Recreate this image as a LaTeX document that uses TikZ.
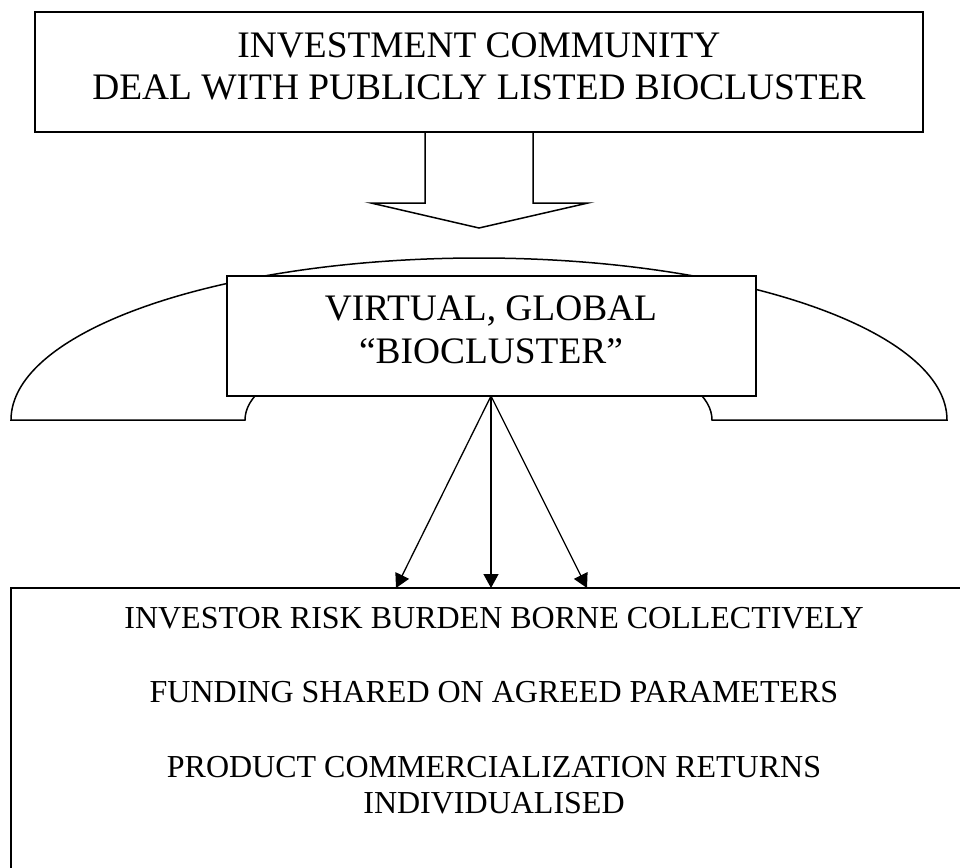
\documentclass[tikz,border=0pt]{standalone}
\usepackage{fontspec}
\setmainfont{Liberation Serif}
\usetikzlibrary{arrows.meta}
\begin{document}
\begin{tikzpicture}[x=1pt,y=1pt,
  boxed/.style={draw, line width=1.8pt, fill=white, inner sep=0pt},
  bigtext/.style={font=\fontsize{37.4}{42}\selectfont, anchor=base, inner sep=0pt},
  smalltext/.style={font=\fontsize{32}{36}\selectfont, anchor=base, inner sep=0pt},
  outline/.style={draw, line width=1.5pt, line join=miter},
  link/.style={line width=1.3pt, -{Triangle[length=14pt,width=15pt]}}]
\useasboundingbox (0,0) rectangle (960,-867);
\clip (0,0) rectangle (960,-867);

% top box
\node[boxed, minimum width=888pt, minimum height=120pt] (top) at (479,-72) {};
\node[bigtext] (topa) at (479,-57) {INVESTMENT COMMUNITY};
\node[bigtext] (topb) at (479,-99) {DEAL WITH PUBLICLY LISTED BIOCLUSTER};

% hollow block arrow hanging from the top box
\draw[outline] (425,-132) -- (425,-203) -- (371,-203) -- (479,-228)
  -- (588,-203) -- (533,-203) -- (533,-132);

% block arc behind the middle box
\draw[outline, fill=white] (11,-420)
  arc[start angle=180, end angle=0, x radius=468pt, y radius=162pt]
  -- (712,-420)
  arc[start angle=0, end angle=180, x radius=233.5pt, y radius=83pt]
  -- cycle;

% middle box
\node[boxed, minimum width=529pt, minimum height=120pt] (mid) at (491.5,-336) {};
\node[bigtext] (mida) at (491,-320) {VIRTUAL, GLOBAL};
\node[bigtext] (midb) at (491,-363) {“BIOCLUSTER”};

% bottom box (runs past the right and lower edges)
\node[boxed, minimum width=966pt, minimum height=320pt] (bot) at (494,-748) {};
\node[smalltext] (bota) at (494,-628) {INVESTOR RISK BURDEN BORNE COLLECTIVELY};
\node[smalltext] (botb) at (494,-702) {FUNDING SHARED ON AGREED PARAMETERS};
\node[smalltext] (botc) at (494,-777) {PRODUCT COMMERCIALIZATION RETURNS};
\node[smalltext] (botd) at (494,-813) {INDIVIDUALISED};

% three connectors fanning out to the bottom box
\coordinate (t1) at (396,-588);
\coordinate (t2) at (491,-588);
\coordinate (t3) at (587,-588);
\coordinate (src) at (491,-396);
\draw[link] (src) -- (t1);
\draw[link] (src) -- (t2);
\draw[link] (src) -- (t3);
\end{tikzpicture}
\end{document}
